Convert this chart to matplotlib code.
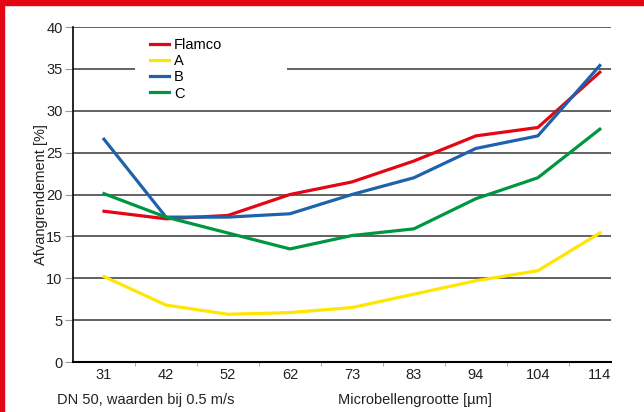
import matplotlib.pyplot as plt
from matplotlib.patches import Rectangle

plt.rcParams['font.family'] = ['Liberation Sans', 'DejaVu Sans']

sizes = ['31', '42', '52', '62', '73', '83', '94', '104', '114']
flamco = [18.0, 17.1, 17.5, 20.0, 21.5, 24.0, 27.0, 28.0, 34.6]
serie_a = [10.2, 6.8, 5.7, 5.9, 6.5, 8.1, 9.7, 10.9, 15.4]
serie_b = [26.6, 17.3, 17.3, 17.7, 20.0, 22.0, 25.5, 27.0, 35.4]
serie_c = [20.1, 17.3, 15.4, 13.5, 15.1, 15.9, 19.5, 22.0, 27.8]

names = ['Flamco', 'A', 'B', 'C']
colors = ['#e30613', '#ffe500', '#1d62ad', '#009640']

fs = 10.5

fig = plt.figure(figsize=(6.44, 4.12), dpi=100)
ax = fig.add_axes([73/644, 1 - 362/412, (611-73)/644, (362-27)/412])

# red frame (left and top)
fig.patches.append(Rectangle((0, 0), 4/644, 1, transform=fig.transFigure,
                             color='#e30613', zorder=0))
fig.patches.append(Rectangle((0, 1 - 5/412), 1, 5/412, transform=fig.transFigure,
                             color='#e30613', zorder=0))

x = list(range(len(sizes)))
for data, name, cl in zip([flamco, serie_a, serie_b, serie_c], names, colors):
    ax.plot(x, data, color=cl, lw=2.3, label=name, zorder=3)

ax.set_ylim(0, 40)
ax.set_xlim(-0.5, 8.18)
ax.set_yticks(range(0, 41, 5))
ax.yaxis.grid(True, color='#555555', lw=1.3)
ax.set_axisbelow(True)

# white block behind the legend, cuts the 35 gridline
ax.add_patch(Rectangle(((135-73)/538, (362-100)/335), (287-135)/538, (100-33)/335,
                       transform=ax.transAxes, facecolor='white', edgecolor='none',
                       zorder=1))

ax.set_xticks(x)
ax.set_xticklabels(sizes)
ax.set_xticks([i + 0.5 for i in range(8)], minor=True)
ax.tick_params(axis='x', which='major', length=0, pad=4, labelsize=fs, colors='#222222')
ax.tick_params(axis='x', which='minor', length=3, color='#999999')
ax.tick_params(axis='y', length=6, width=0.8, color='#999999', pad=1.5,
               labelsize=fs, labelcolor='#222222')

for s in ['top', 'right']:
    ax.spines[s].set_visible(False)
ax.spines['left'].set_linewidth(1.2)
ax.spines['bottom'].set_linewidth(1.5)

ax.set_ylabel('Afvangrendement [%]', fontsize=fs, labelpad=-1, color='#222222')

leg = ax.legend(loc='upper left', bbox_to_anchor=((150-73)/538, (362-38)/335),
                frameon=False, fontsize=fs, handlelength=1.3, handletextpad=0.35,
                labelspacing=0.15, borderpad=0, borderaxespad=0)
leg.set_zorder(5)

fig.text(57/644, 1 - 400/412, 'DN 50, waarden bij 0.5 m/s', fontsize=fs,
         va='center', ha='left', color='#222222')
fig.text(415/644, 1 - 400/412, 'Microbellengrootte [\u00b5m]', fontsize=fs,
         va='center', ha='center', color='#222222')

fig.savefig('out.png', dpi=100)
